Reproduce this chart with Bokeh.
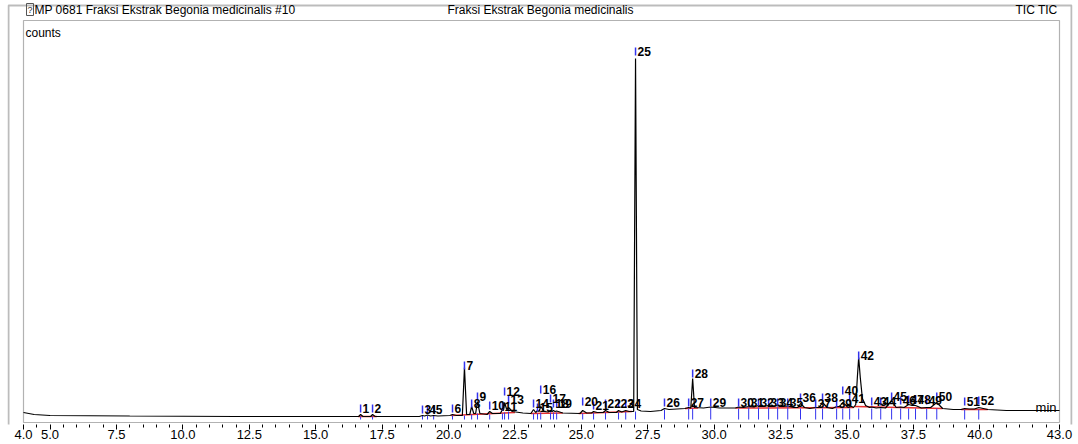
from bokeh.plotting import figure
from bokeh.models import (Range1d, FixedTicker, Label, BoxAnnotation, ColumnDataSource,
                          CustomJSTickFormatter)
from bokeh.core.properties import value
from bokeh.embed import file_html
from bokeh.resources import INLINE

# ---------------- data ----------------
trace_t = [4.0, 4.4, 5.0, 8.0, 12.0, 16.5,
           16.62, 16.69, 16.78, 17.07, 17.14, 17.24,
           18.9, 19.02, 19.1, 19.21, 19.32, 19.44, 19.6,
           20.05, 20.15, 20.3, 20.52, 20.60, 20.68,
           20.8, 20.87, 20.95, 21.02, 21.09, 21.18,
           21.45, 21.55, 21.65, 21.95, 22.03, 22.07, 22.11, 22.19, 22.26, 22.4, 22.8, 23.1,
           23.20, 23.28, 23.35, 23.41, 23.47, 23.6, 23.75, 23.84, 23.9, 23.95, 24.01, 24.07, 24.3,
           24.95, 25.05, 25.2, 25.38, 25.46, 25.6, 25.82, 25.91, 26.05,
           26.32, 26.40, 26.52, 26.67, 26.8, 26.97, 27.04, 27.11, 27.25,
           27.6, 28.0, 28.13, 28.3, 28.9, 29.04, 29.12, 29.19, 29.26,
           29.6, 29.87, 30.2, 30.8, 30.92, 31.1, 31.30, 31.5, 31.67, 31.85, 32.05, 32.2, 32.39, 32.55, 32.77, 33.0,
           33.15, 33.25, 33.4, 33.6, 33.82, 33.95, 34.08, 34.25, 34.45,
           34.61, 34.72, 34.84, 34.97, 35.10, 35.25,
           35.33, 35.39, 35.44, 35.50, 35.58, 35.7, 35.85,
           35.93, 36.1, 36.27, 36.45, 36.68, 36.85, 37.02, 37.15, 37.32, 37.45, 37.58, 37.8, 38.0, 38.15, 38.38, 38.6,
           39.0, 39.3, 39.43, 39.6, 39.8, 39.96, 40.3, 41.0, 42.0, 43.0]
trace_counts = [10, 8, 7, 6.5, 6, 6,
                6, 8, 6, 6, 8, 6,
                6, 7, 6.5, 7.5, 6.5, 7, 6.5,
                7, 8, 7, 7, 55, 8,
                8, 16, 9, 9, 21, 9,
                8, 11, 9, 9, 13, 12, 20, 13, 15, 11, 9.5, 9,
                13, 10, 12, 11, 16, 11, 10.5, 12, 11, 12, 11, 11.5, 9.5,
                9, 12, 9.5, 9.5, 11, 10, 10, 12, 10,
                10, 12, 10.5, 12, 11, 11, 364, 13, 11.5,
                11, 12, 14, 13, 14, 15, 14.5, 44, 15,
                14.5, 15.5, 14.5, 14.5, 15.5, 15, 16, 15.5, 17, 16, 17, 16, 17, 16, 16.5, 15,
                15, 19, 15, 14, 15, 15, 20, 15, 14,
                16, 16, 20, 17, 17, 15,
                18, 45, 65, 45, 24, 17, 15,
                15.5, 14.5, 15, 14.5, 22, 15, 15.5, 15, 18, 17, 17, 14.5, 15, 15, 20, 14,
                13, 13, 14, 13.5, 13.5, 15, 13, 12, 12, 12]

peak_no = [str(i) for i in range(1, 53)]
peak_rt = [16.69, 17.14, 19.02, 19.21, 19.44, 20.15, 20.60, 20.87, 21.09, 21.55,
           22.03, 22.11, 22.26, 23.20, 23.35, 23.47, 23.84, 23.95, 24.07, 25.05,
           25.46, 25.91, 26.40, 26.67, 27.04, 28.13, 29.04, 29.19, 29.87, 30.92,
           31.30, 31.67, 32.05, 32.39, 32.77, 33.25, 33.82, 34.08, 34.61, 34.84,
           35.10, 35.44, 35.93, 36.27, 36.68, 37.02, 37.32, 37.58, 38.00, 38.38,
           39.43, 39.96]
label_counts = [14, 14, 13, 13, 13, 14, 57, 19, 26, 17,
                16, 31, 23, 19, 15, 33, 24, 19, 19, 21,
                17, 19, 19, 19, 371, 20, 20, 49, 20, 20,
                20, 20, 20, 20, 20, 25, 19, 25, 19, 32,
                24, 67, 21, 21, 26, 22, 23, 23, 22, 26,
                21, 22]
peak_base = [6, 6, 6.5, 6.5, 6.5, 7, 7, 8, 9, 8,
             9, 10, 11, 9, 9, 10, 10, 10, 10, 9,
             9.5, 10, 10, 10.5, 11, 13, 14, 14, 14.5, 14,
             14.5, 15, 15, 15, 15, 14, 14, 14, 14, 14,
             14, 14, 14, 14, 14, 14, 14, 14, 14, 14,
             13, 13]

# integrated baseline segments (red)
base_t0 = [16.6, 20.1, 23.1, 24.9, 28.9, 30.8, 35.3, 39.3]
base_t1 = [17.3, 22.5, 24.3, 26.9, 29.4, 35.25, 38.6, 40.3]
base_c0 = [6, 7, 9, 9, 14, 14.5, 16, 13]
base_c1 = [6, 10, 9.5, 11, 14.5, 15, 14, 13]

major_ticks = [4.0, 5.0, 7.5, 10.0, 12.5, 15.0, 17.5, 20.0, 22.5, 25.0,
               27.5, 30.0, 32.5, 35.0, 37.5, 40.0, 43.0]
minor_ticks = [4.5, 5.5, 6.0, 6.5, 7.0, 8.0, 8.5, 9.0, 9.5, 10.5, 11.0, 11.5, 12.0,
               13.0, 13.5, 14.0, 14.5, 15.5, 16.0, 16.5, 17.0, 18.0, 18.5, 19.0, 19.5,
               20.5, 21.0, 21.5, 22.0, 23.0, 23.5, 24.0, 24.5, 25.5, 26.0, 26.5, 27.0,
               28.0, 28.5, 29.0, 29.5, 30.5, 31.0, 31.5, 32.0, 33.0, 33.5, 34.0, 34.5,
               35.5, 36.0, 36.5, 37.0, 38.0, 38.5, 39.0, 39.5, 40.5, 41.0, 41.5, 42.0, 42.5]

title_left = "MP 0681 Fraksi Ekstrak Begonia medicinalis #10"
title_mid = "Fraksi Ekstrak Begonia medicinalis"
title_right = "TIC TIC"

FONT = "Liberation Sans"

# ---------------- figure ----------------
# frame spans canvas x 7..1072, y 0..424; 4.0 min sits at x=23 and 43.0 at x=1059
p = figure(width=1078, height=444, output_backend="svg", toolbar_location=None,
           x_range=Range1d(3.3976, 43.4894), y_range=Range1d(-2, 422),
           y_axis_location=None, min_border=0,
           min_border_left=7, min_border_right=6, min_border_top=0, min_border_bottom=20)
p.grid.visible = False
p.outline_line_color = None
p.background_fill_color = "white"
p.border_fill_color = "white"

ax = p.xaxis[0]
ax.ticker = FixedTicker(ticks=major_ticks, minor_ticks=minor_ticks)
ax.formatter = CustomJSTickFormatter(code="return tick.toFixed(1);")
ax.major_tick_in = 0
ax.major_tick_out = 5
ax.minor_tick_in = 0
ax.minor_tick_out = 3
ax.major_label_standoff = 0
ax.axis_line_color = None
ax.major_label_text_font = FONT
ax.major_label_text_font_size = "13px"
ax.major_label_text_color = "black"

# outer frame of the report (screen units, relative to the plot frame)
p.add_layout(BoxAnnotation(left=1, right=1064, top=419, bottom=-20,
                           left_units="screen", right_units="screen",
                           top_units="screen", bottom_units="screen",
                           fill_alpha=0, line_color="#222222", line_width=2))
# inner chromatogram box: 4.0-43.0 min, bottom edge doubles as the time axis line
p.add_layout(BoxAnnotation(left=4.0, right=43.0, bottom=0, top=402,
                           fill_alpha=0, line_color="black", line_width=1.2))

# red integration baselines
p.segment(x0=base_t0, y0=base_c0, x1=base_t1, y1=base_c1, line_color="#e83030", line_width=1.5)

# trace
p.line(trace_t, trace_counts, line_color="black", line_width=1.2)

# integration markers and peak numbers
src = ColumnDataSource(dict(rt=peak_rt, base=peak_base, lab=label_counts, no=peak_no,
                            low=[3] * len(peak_rt),
                            tlo=[c - 4 for c in label_counts],
                            thi=[c + 4 for c in label_counts]))
p.segment(x0="rt", y0="base", x1="rt", y1="low", source=src, line_color="#3333ee", line_width=1)
p.segment(x0="rt", y0="tlo", x1="rt", y1="thi", source=src, line_color="#3333ee", line_width=1.5)
p.text(x="rt", y="lab", text="no", source=src, x_offset=2, text_align="left",
       text_baseline="middle", text_font=value(FONT), text_font_style="bold",
       text_font_size="12px", text_color="black")

def lab(text, sx, sy, size="12px", align="left", base="middle"):
    p.add_layout(Label(x=sx, y=sy, x_units="screen", y_units="screen", text=text,
                       text_font=FONT, text_font_size=size, text_align=align,
                       text_baseline=base, text_color="black"))

lab(title_left, 27, 415)
lab(title_mid, 533, 415, align="center")
lab(title_right, 1050, 415, align="right")
lab("counts", 18, 392)
lab("min", 1049, 17, size="13px", align="right")
p.add_layout(Label(x=19, y=415, x_units="screen", y_units="screen", text="?",
                   text_font=FONT, text_font_size="9px", text_baseline="middle",
                   border_line_color="#555555", padding=1, text_color="#333333"))

open("out.html", "w").write(file_html(p, INLINE))
